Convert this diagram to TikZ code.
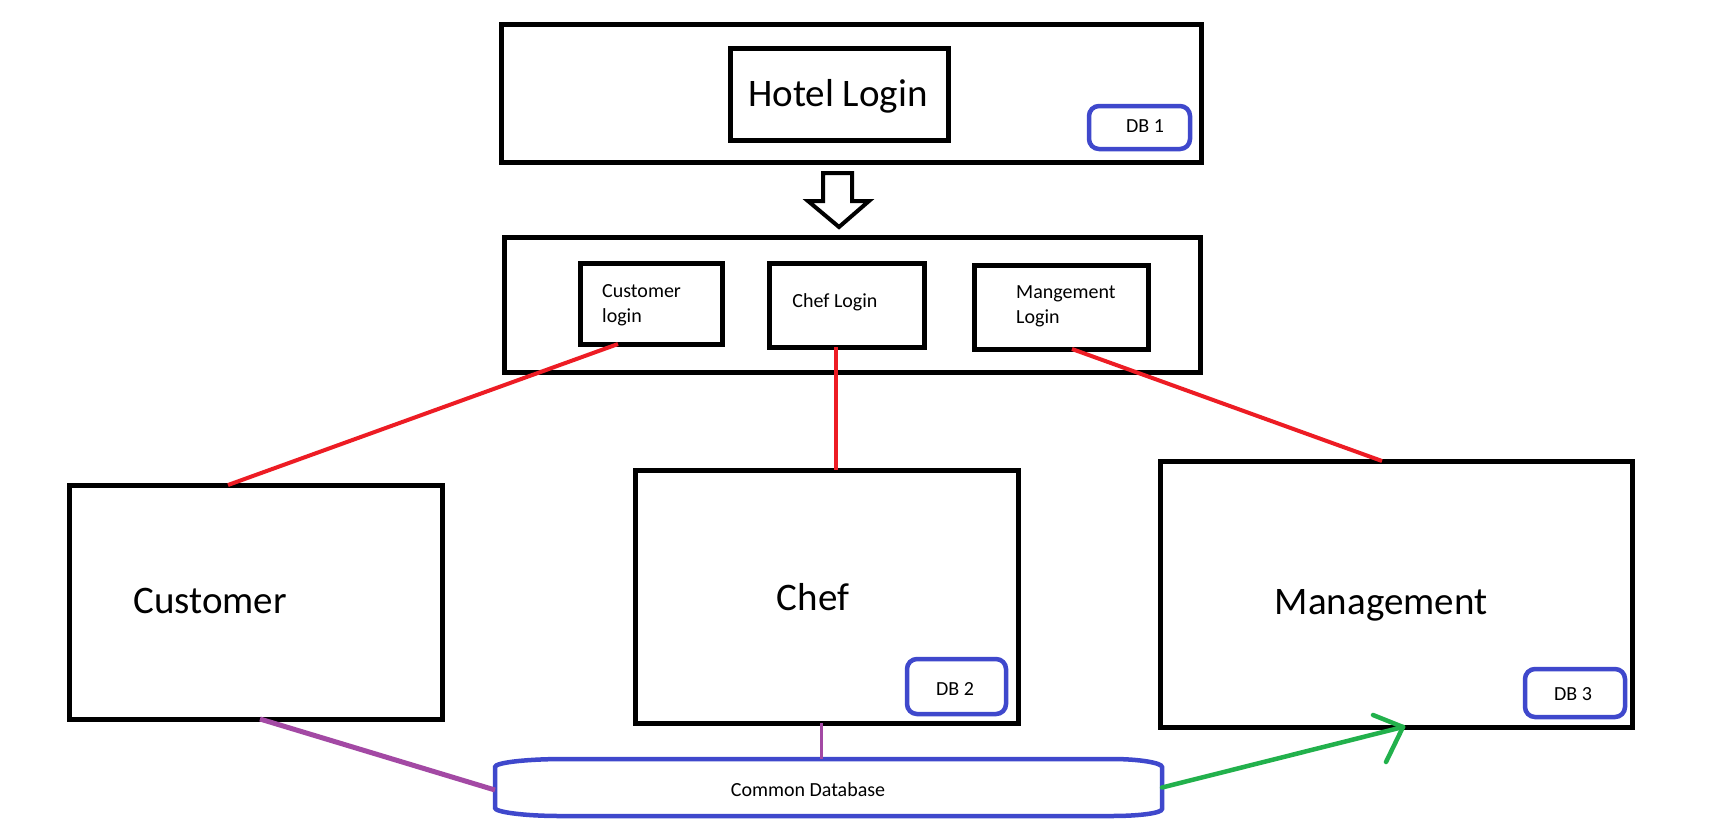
\documentclass[tikz,border=0pt]{standalone}
\usepackage{fontspec}
\setmainfont{Carlito}
\definecolor{pred}{RGB}{237,28,36}
\definecolor{pblue}{RGB}{63,72,204}
\definecolor{ppurple}{RGB}{163,73,164}
\definecolor{pgreen}{RGB}{34,177,76}
\begin{document}
\begin{tikzpicture}[x=1pt,y=-1pt,
  bbox/.style={draw=black,line width=5pt,inner sep=0pt,outer sep=0pt,fill=none},
  dbbox/.style={draw=pblue,line width=4.5pt,rounded corners=10pt,inner sep=0pt,outer sep=0pt,minimum width=100pt},
  bigtxt/.style={inner sep=0pt,anchor=base,font=\fontsize{39}{45}\selectfont},
  smalltxt/.style={inner sep=0pt,font=\fontsize{20}{24.5}\selectfont},
  redline/.style={draw=pred,line width=4pt},
  purpleline/.style={draw=ppurple,line width=5pt},
  greenline/.style={draw=pgreen,line width=4.5pt,line cap=round,line join=round}]
\useasboundingbox[fill=white] (0,0) rectangle (1731,827);

% top login area
\node[bbox,minimum width=700pt,minimum height=138pt] (topbox) at (851,93) {};
\node[bbox,minimum width=218pt,minimum height=92pt] (hotel) at (839,94) {};
\node[bigtxt] (hoteltxt) at (838,106) {Hotel Login};
\node[dbbox,minimum width=101pt,minimum height=43pt] (db1) at (1139.5,127.5) {};
\node[smalltxt,anchor=base] (db1txt) at (1145,132) {DB 1};

% hollow down arrow
\draw[line width=4pt,line join=miter] (823,173) -- (852,173) -- (852,201) -- (869,201)
  -- (839,227) -- (808,201) -- (823,201) -- cycle;

% second login row
\node[bbox,minimum width=696pt,minimum height=135pt] (rolebox) at (852,304.5) {};
\node[bbox,minimum width=142pt,minimum height=81pt] (custlogin) at (651,303.5) {};
\node[bbox,minimum width=155pt,minimum height=84pt] (cheflogin) at (846.5,305) {};
\node[bbox,minimum width=174pt,minimum height=84pt] (mgmtlogin) at (1061,307) {};
\node[smalltxt,anchor=base west,align=left] (custlogintxt) at (602,322) {Customer\\login};
\node[smalltxt,anchor=base] (chefloginttxt) at (835,307) {Chef Login};
\node[smalltxt,anchor=base west,align=left] (mgmtlogintxt) at (1016,323) {Mangement\\Login};

% lower boxes
\node[bbox,minimum width=373pt,minimum height=234pt] (customer) at (255.5,602) {};
\node[bbox,minimum width=383pt,minimum height=253pt] (chef) at (826.5,596.5) {};
\node[bbox,minimum width=472pt,minimum height=266pt] (mgmt) at (1396,594) {};
\node[bigtxt] (customertxt) at (210,613) {Customer};
\node[bigtxt] (cheftxt) at (813,610) {Chef};
\node[bigtxt] (mgmttxt) at (1381,614) {Management};
\node[dbbox,minimum width=99pt,minimum height=55pt] (db2) at (956.5,686.5) {};
\node[smalltxt,anchor=base] (db2txt) at (955,695) {DB 2};
\node[dbbox,minimum width=100pt,minimum height=48pt] (db3) at (1575,693) {};
\node[smalltxt,anchor=base] (db3txt) at (1573,700) {DB 3};

% common database
\node[inner sep=0pt,outer sep=0pt,minimum width=667pt,minimum height=57pt] (cdb) at (828.5,787.5) {};
\draw[draw=pblue,line width=4.5pt] (495,767) .. controls (495,762.6) and (526,759) .. (565,759)
  -- (1112,759) .. controls (1140,759) and (1162,763) .. (1162,767)
  -- (1162,809) .. controls (1162,813) and (1140,816) .. (1112,816)
  -- (560,816) .. controls (524,816) and (495,812) .. (495,808) -- cycle;
\node[smalltxt,anchor=base] (cdbtxt) at (808,796) {Common Database};

% connectors
\draw[redline] ([xshift=-33pt]custlogin.south) -- ([xshift=-27.5pt]customer.north);
\draw[redline] ([xshift=-10.5pt]cheflogin.south) -- ([xshift=9.5pt]chef.north);
\draw[redline] ([xshift=11pt]mgmtlogin.south) -- ([xshift=-14pt]mgmt.north);
\draw[purpleline] ([xshift=4.5pt]customer.south) -- ([yshift=-2.5pt]cdb.west);
\draw[draw=ppurple,line width=3pt] ([xshift=-5.5pt]chef.south) -- ([xshift=-7.5pt]cdb.north);
\coordinate (gtip) at ([xshift=7pt]mgmt.south);
\draw[greenline] (cdb.east) -- (gtip);
\draw[greenline] (gtip) -- ++(-30,-12);
\draw[greenline] (gtip) -- ++(-17,35);
\end{tikzpicture}
\end{document}
